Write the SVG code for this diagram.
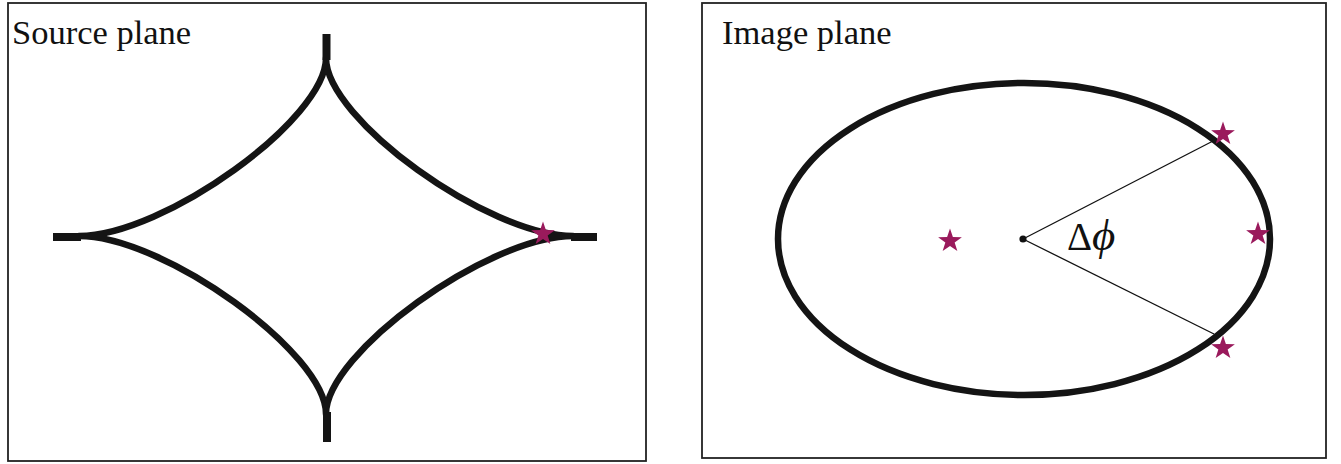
<svg xmlns="http://www.w3.org/2000/svg" xmlns:xlink="http://www.w3.org/1999/xlink" width="1341" height="464" viewBox="0 0 1341 464">
  <style>
    .frame { fill: #ffffff; stroke: #222222; stroke-width: 1.8; }
    .thick { fill: none; stroke: #141414; stroke-width: 6.5; stroke-linejoin: round; }
    .stub { stroke: #141414; stroke-width: 8; }
    .thin { stroke: #111111; stroke-width: 1.3; }
    .label { font-family: "Liberation Serif", "Times New Roman", serif; font-size: 34.5px; fill: #111111; }
    .math { font-family: "Liberation Serif", "Times New Roman", serif; font-size: 39px; fill: #111111; }
    .star { fill: #9a1a5c; }
  </style>
  <defs>
    <polygon id="star" class="star" points="0,-12.5 2.88,-3.96 11.89,-3.86 4.65,1.51 7.35,10.11 0,4.89 -7.35,10.11 -4.65,1.51 -11.89,-3.86 -2.88,-3.96"/>
  </defs>
  <rect width="1341" height="464" fill="#ffffff"/>

  <g id="source-plane">
    <rect class="frame" x="8" y="3" width="638" height="458"/>
    <text class="label" x="12" y="44">Source plane</text>
    <g id="caustic">
      <path class="thick" d="M326,58 C326,119 164,236 79,236 C164,236 326,353 326,414 C326,353 488,236 573,236 C488,236 326,119 326,58 Z"/>
      <line class="stub" x1="326.5" y1="34" x2="326.5" y2="60"/>
      <line class="stub" x1="327" y1="412" x2="327" y2="442"/>
      <line class="stub" x1="53" y1="237" x2="81" y2="237"/>
      <line class="stub" x1="571" y1="237" x2="597" y2="237"/>
    </g>
    <use id="source-star" xlink:href="#star" x="543" y="234"/>
  </g>

  <g id="image-plane">
    <rect class="frame" x="702" y="3" width="624" height="455"/>
    <text class="label" x="722" y="44">Image plane</text>
    <g id="critical-curve">
      <ellipse class="thick" cx="1024" cy="239" rx="246" ry="156"/>
    </g>
    <g id="connectors">
      <line class="thin" x1="1023" y1="239" x2="1213" y2="141"/>
      <line class="thin" x1="1023" y1="239" x2="1214" y2="334"/>
    </g>
    <circle id="lens-center" cx="1023" cy="239" r="3.6" fill="#111111"/>
    <text id="delta-phi" class="math" x="1067" y="250">Δ<tspan font-style="italic" font-size="45px">ϕ</tspan></text>
    <g id="images">
      <use xlink:href="#star" x="950" y="241"/>
      <use xlink:href="#star" x="1223" y="134"/>
      <use xlink:href="#star" x="1258" y="234"/>
      <use xlink:href="#star" x="1223" y="348"/>
    </g>
  </g>
</svg>
